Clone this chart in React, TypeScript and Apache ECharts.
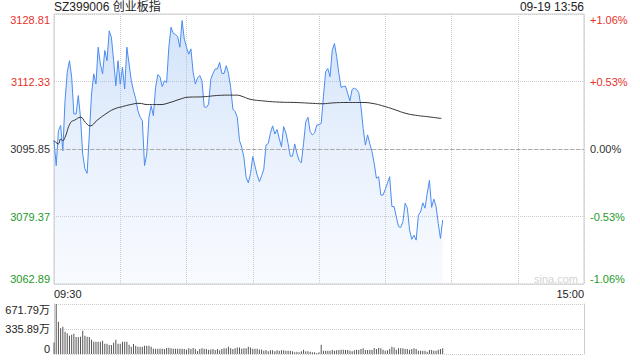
import React, { useEffect, useRef } from 'react';
import * as echarts from 'echarts';

const titleText = 'SZ399006 创业板指';
const stampText = '09-19 13:56';
const timeLabels = ['09:30', '15:00'];
const prevClose = 3095.85;
const priceMin = 3062.89;
const priceMax = 3128.81;
const priceStep = 16.48;
const volMax = 671.79;
const totalMinutes = 240;

const prices = [
  3097.9, 3091.8, 3100.3, 3101.6, 3095.4, 3107.7, 3114.6, 3117.4, 3113.4, 3104.4,
  3104.4, 3108.9, 3103.6, 3094.6, 3091.0, 3089.9, 3099.5, 3109.3, 3114.2, 3111.7,
  3120.7, 3116.6, 3114.2, 3119.9, 3117.4, 3124.7, 3123.1, 3117.4, 3111.3, 3117.4,
  3111.7, 3115.8, 3110.5, 3120.7, 3116.6, 3112.5, 3110.1, 3108.1, 3105.2, 3103.6,
  3102.8, 3091.8, 3094.6, 3103.6, 3106.4, 3104.0, 3110.9, 3114.0, 3113.5, 3111.1,
  3112.5, 3112.1, 3120.7, 3125.6, 3124.1, 3123.8, 3123.3, 3120.7, 3127.2, 3122.7,
  3120.7, 3119.0, 3120.3, 3114.6, 3111.7, 3113.2, 3113.8, 3112.5, 3106.2, 3106.0,
  3106.8, 3112.9, 3114.3, 3115.4, 3115.4, 3117.0, 3114.3, 3114.3, 3116.2, 3114.3,
  3110.9, 3105.6, 3105.0, 3103.6, 3097.9, 3096.3, 3093.8, 3088.9, 3087.6, 3089.9,
  3094.0, 3091.7, 3089.5, 3087.9, 3089.3, 3090.9, 3096.8, 3097.2, 3099.7, 3101.5,
  3099.5, 3100.6, 3098.4, 3096.4, 3101.3, 3099.8, 3097.2, 3094.1, 3094.1, 3097.1,
  3094.8, 3093.0, 3092.5, 3097.2, 3102.5, 3103.6, 3100.1, 3099.3, 3099.8, 3101.7,
  3101.8, 3102.1, 3108.6, 3114.7, 3115.5, 3113.5, 3120.0, 3121.6, 3118.4, 3114.3,
  3110.9, 3111.1, 3111.2, 3109.4, 3107.6, 3110.4, 3110.7, 3110.4, 3109.6, 3106.2,
  3100.9, 3096.8, 3099.3, 3097.1, 3095.2, 3092.3, 3088.7, 3089.1, 3084.6, 3084.6,
  3086.0, 3087.5, 3089.1, 3081.8, 3081.8, 3079.3, 3076.9, 3076.7, 3078.1, 3082.6,
  3081.4, 3076.1, 3073.8, 3074.8, 3073.6, 3079.7, 3080.5, 3082.7, 3081.4, 3085.0,
  3088.2, 3081.6, 3083.6, 3081.8, 3077.7, 3074.0, 3078.5,
];

const avgMinutes = [
  0, 2, 3, 4, 5, 7.5, 9.4, 12, 14.3, 16.3, 19.6, 23.4, 27.2, 31, 34.7, 38.5, 42.3,
  48, 52.5, 57, 60.8, 67.6, 73.6, 79.5, 82.7, 85.7, 88.8, 94.5, 102, 109.6, 117,
  121.6, 126.2, 132.2, 139.5, 144, 150, 154.6, 159, 163.6, 169.7, 175.4,
];
const avgValues = [
  3097.9, 3097.1, 3098.3, 3097.9, 3098.7, 3102.3, 3102.9, 3103.6, 3102.3, 3101.5,
  3102.9, 3104.4, 3105.6, 3106.2, 3106.7, 3107.0, 3106.7, 3106.7, 3107.2, 3108.0,
  3108.5, 3108.6, 3108.9, 3109.0, 3109.0, 3108.6, 3108.0, 3107.6, 3107.3, 3107.2,
  3107.0, 3106.9, 3107.1, 3107.2, 3107.2, 3107.0, 3106.2, 3105.4, 3104.6, 3104.1,
  3103.7, 3103.3,
];

const volumes = [
  156, 671.79, 432, 347, 365, 298, 280, 245, 258, 271, 227, 227, 231, 312, 245,
  231, 227, 191, 165, 165, 165, 165, 178, 138, 138, 120, 120, 151, 191, 138, 138,
  165, 165, 165, 125, 98, 134, 111, 98, 98, 98, 111, 111, 111, 98,
  71, 71, 71, 71, 71, 67, 80, 85, 76, 71, 71, 71, 71, 71, 67, 58, 76, 67, 80, 67,
  40, 67, 76, 71, 67, 58, 62, 67, 53, 67, 49, 67, 76, 76, 98, 76, 67, 76, 89, 89,
  71, 76, 76,
  98, 89, 71, 71, 71, 62, 62, 45, 53, 36, 49, 49, 36, 49, 45, 49, 49, 45, 45, 45,
  36, 22, 31, 22, 36, 58, 36, 36, 31, 22, 22, 13, 22, 125, 45, 45, 45, 45, 53, 45,
  49, 53, 58, 58, 53, 53, 45, 36, 49, 58, 53, 67, 76, 53, 53, 58, 53, 80, 67, 80,
  76, 58, 45, 49, 67, 98, 89, 58, 76, 76, 76, 67, 67, 58, 67, 76, 67, 45, 45, 45,
  45, 31, 53, 53, 45, 45, 58, 67, 76,
];

const FONT = 'Arial, "Liberation Sans", "Noto Sans CJK SC", sans-serif';
const UP = '#e8312a';
const DOWN = '#24992a';
const FLAT = '#333333';

export default function App() {
  const ref = useRef<HTMLDivElement>(null);

  useEffect(() => {
    if (!ref.current) return;
    const chart = echarts.init(ref.current, null, { renderer: 'svg' });
    const colorOf = (v: any) => {
      const n = Number(v);
      if (Math.abs(n - prevClose) < 0.005) return FLAT;
      return n > prevClose ? UP : DOWN;
    };
    const pct = (v: number) => {
      const p = ((v - prevClose) / prevClose) * 100;
      if (Math.abs(p) < 0.005) return '0.00%';
      return (p > 0 ? '+' : '') + p.toFixed(2) + '%';
    };
    const volFmt = (v: number) => {
      if (v < 1e-6) return '0';
      return (Math.floor(v * 100 + 1e-6) / 100).toFixed(2) + '万';
    };

    chart.setOption({
      animation: false,
      textStyle: { fontFamily: FONT },
      title: [
        {
          text: titleText,
          left: 54,
          top: 1,
          padding: 0,
          textStyle: { fontSize: 12, fontWeight: 'normal', color: '#222', fontFamily: FONT },
        },
        {
          text: stampText,
          right: 56,
          top: 1,
          padding: 0,
          textStyle: { fontSize: 12, fontWeight: 'normal', color: '#222', fontFamily: FONT },
        },
      ],
      graphic: [
        {
          type: 'text',
          right: 62,
          top: 273,
          silent: true,
          style: { text: 'sina.com', fill: '#d4d4d4', fontSize: 11, fontFamily: FONT },
        },
      ],
      grid: [
        { left: 54, top: 14, width: 530, height: 270, show: true, borderColor: '#cccccc', borderWidth: 1 },
        { left: 54, top: 304, width: 530, height: 50 },
      ],
      xAxis: [
        {
          type: 'value',
          gridIndex: 0,
          min: 0,
          max: totalMinutes,
          interval: 30,
          axisLine: { show: false },
          axisTick: { show: false },
          splitLine: { show: true, lineStyle: { type: 'dotted', color: '#cccccc', width: 1 } },
          axisLabel: {
            fontSize: 11,
            color: '#222',
            margin: 4,
            fontFamily: FONT,
            alignMinLabel: 'left',
            alignMaxLabel: 'right',
            formatter: (v: number) => (v === 0 ? timeLabels[0] : v === totalMinutes ? timeLabels[1] : ''),
          },
        },
        {
          type: 'value',
          gridIndex: 1,
          min: 0,
          max: totalMinutes,
          axisLine: { show: false },
          axisTick: { show: false },
          axisLabel: { show: false },
          splitLine: { show: false },
        },
      ],
      yAxis: [
        {
          type: 'value',
          gridIndex: 0,
          position: 'left',
          min: priceMin,
          max: priceMax,
          interval: priceStep,
          axisLine: { show: false },
          axisTick: { show: false },
          splitLine: { show: true, lineStyle: { type: 'dotted', color: '#cccccc', width: 1 } },
          axisLabel: {
            fontSize: 11,
            margin: 4,
            fontFamily: FONT,
            color: colorOf,
            verticalAlignMinLabel: 'bottom',
            verticalAlignMaxLabel: 'top',
            formatter: (v: number) => v.toFixed(2),
          },
        },
        {
          type: 'value',
          gridIndex: 0,
          position: 'right',
          min: priceMin,
          max: priceMax,
          interval: priceStep,
          axisLine: { show: false },
          axisTick: { show: false },
          splitLine: { show: false },
          axisLabel: {
            fontSize: 11,
            margin: 6,
            fontFamily: FONT,
            color: colorOf,
            verticalAlignMinLabel: 'bottom',
            verticalAlignMaxLabel: 'top',
            formatter: (v: number) => pct(v),
          },
        },
        {
          type: 'value',
          gridIndex: 1,
          position: 'left',
          min: 0,
          max: volMax,
          interval: volMax / 2,
          axisLine: { show: true, lineStyle: { color: '#cccccc', width: 1 } },
          axisTick: { show: false },
          splitLine: { show: true, lineStyle: { type: 'dotted', color: '#cccccc', width: 1 } },
          axisLabel: {
            fontSize: 11,
            margin: 4,
            color: '#222',
            fontFamily: FONT,
            verticalAlignMinLabel: 'bottom',
            verticalAlignMaxLabel: 'top',
            formatter: (v: number) => volFmt(v),
          },
        },
        {
          type: 'value',
          gridIndex: 1,
          position: 'right',
          min: 0,
          max: volMax,
          axisLine: { show: true, lineStyle: { color: '#cccccc', width: 1 } },
          axisTick: { show: false },
          axisLabel: { show: false },
          splitLine: { show: false },
        },
      ],
      series: [
        {
          type: 'line',
          xAxisIndex: 0,
          yAxisIndex: 0,
          data: prices.map((v, i) => [i, v]),
          showSymbol: false,
          symbol: 'none',
          lineStyle: { color: '#4a8cf0', width: 1 },
          areaStyle: {
            color: new echarts.graphic.LinearGradient(0, 0, 0, 1, [
              { offset: 0, color: 'rgba(100,158,238,0.42)' },
              { offset: 1, color: 'rgba(190,212,248,0.16)' },
            ]),
          },
          markLine: {
            silent: true,
            symbol: 'none',
            label: { show: false },
            lineStyle: { type: [4, 2], color: '#aaaaaa', width: 1 },
            data: [{ yAxis: prevClose }],
          },
          z: 3,
        },
        {
          type: 'line',
          xAxisIndex: 0,
          yAxisIndex: 0,
          data: avgMinutes.map((m, k) => [m, avgValues[k]]),
          showSymbol: false,
          symbol: 'none',
          smooth: true,
          lineStyle: { color: '#333333', width: 1 },
          z: 4,
        },
        {
          type: 'bar',
          xAxisIndex: 1,
          yAxisIndex: 2,
          data: volumes.map((v, i) => [i, v]),
          barWidth: 1,
          itemStyle: { color: '#555555' },
        },
      ],
    });

    return () => chart.dispose();
  }, []);

  return (
    <div
      ref={ref}
      style={{ position: 'fixed', left: 0, top: 0, width: 640, height: 360, background: '#fff' }}
    />
  );
}
